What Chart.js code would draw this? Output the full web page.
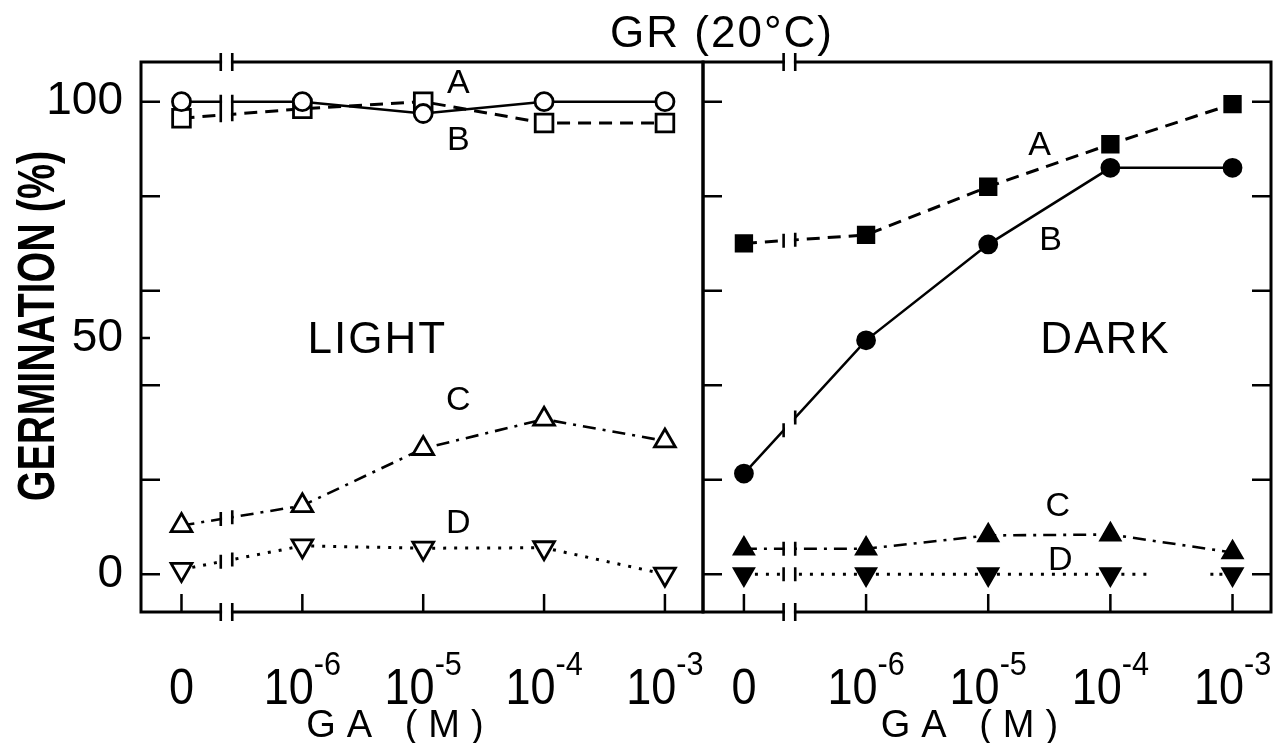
<!DOCTYPE html>
<html lang="en">
  <head>
    <meta charset="UTF-8" />
    <title>GR (20°C) germination</title>
    <style>
      html, body { margin: 0; padding: 0; background: #fff; }
      body { width: 1278px; height: 743px; position: relative; overflow: hidden; }
      canvas { position: absolute; top: 0; }
      #lightChart { left: 0; }
      #darkChart { left: 690px; }
      #topTitle {
        position: absolute; left: 722px; top: 10px; transform: translateX(-50%);
        font: 44px/44px "Liberation Sans", Arial, sans-serif; letter-spacing: 2px;
        color: #000; white-space: nowrap; z-index: 2;
      }
    </style>
  </head>
  <body>
    <div id="topTitle">GR (20°C)</div>
    <canvas id="lightChart" width="710" height="743"></canvas>
    <canvas id="darkChart" width="588" height="743"></canvas>
    <script src="https://cdn.jsdelivr.net/npm/chart.js"></script>
    <script>
      // GA doses, evenly spaced categories (0 sits before an axis break)
      const doseTicks = [0, 1, 2, 3, 4];
      const doseBase = ["0", "10", "10", "10", "10"];
      const doseExp = ["", "-6", "-5", "-4", "-3"];

      const yLabelValues = [0, 50, 100];
      const yMajorMarks = [0, 20, 40, 60, 80, 100];
      const yMinorMarks = [50];

      // germination (%) in light
      const lightA = [96.5, 98.5, 100, 95.5, 95.5];
      const lightB = [100, 100, 97.5, 100, 100];
      const lightC = [10.3, 14.5, 26.6, 32.8, 28.2];
      const lightD = [1, 6, 5.5, 5.6, 0];

      // germination (%) in dark
      const darkA = [70, 71.8, 82, 91, 99.5];
      const darkB = [21.3, 49.5, 69.8, 86, 86];
      const darkC = [5.4, 5.4, 8.2, 8.4, 4.6];
      const darkD = [0, 0, 0, 0, 0];

      const FONT = '"Liberation Sans", Arial, sans-serif';
      const X_MIN = -0.335, X_MAX = 4.315;
      const Y_MIN = -8, Y_MAX = 108.4;
      const BREAK = [0.325, 0.42];

      const solid = { borderWidth: 2.5 };
      const dashed = { borderWidth: 3, borderDash: [13, 8] };
      const dashDot = { borderWidth: 2.6, borderDash: [13, 7, 3, 7] };
      const dotted = { borderWidth: 3, borderDash: [3, 8] };

      function marker(style, filled, r) {
        return {
          pointStyle: style === "down" ? "triangle" : style,
          rotation: style === "down" ? 180 : 0,
          pointRadius: r,
          pointHoverRadius: r,
          pointBorderWidth: 2.8,
          pointBackgroundColor: filled ? "#000" : "#fff",
          pointBorderColor: "#000",
        };
      }

      function series(values, line, mark, extra) {
        return Object.assign(
          {
            data: values.map((v, i) => ({ x: doseTicks[i], y: v })),
            borderColor: "#000",
            fill: false,
            tension: 0,
            borderCapStyle: "butt",
          },
          line,
          mark,
          extra || {}
        );
      }

      // frame, inward ticks, axis break and texts of one panel
      const panelDecor = {
        id: "panelDecor",
        afterDatasetsDraw(chart, args, o) {
          const { ctx, chartArea: a } = chart;
          const x = chart.scales.x, y = chart.scales.y;
          ctx.save();
          ctx.strokeStyle = "#000";
          ctx.lineCap = "butt";
          ctx.lineWidth = 3;
          ctx.strokeRect(a.left, a.top, a.right - a.left, a.bottom - a.top);

          ctx.lineWidth = 2.5;
          ctx.beginPath();
          if (o.leftMarks) {
            yMajorMarks.forEach((v) => {
              const py = y.getPixelForValue(v);
              ctx.moveTo(a.left, py);
              ctx.lineTo(a.left + 19, py);
            });
          }
          if (o.minorMarks) {
            yMinorMarks.forEach((v) => {
              const py = y.getPixelForValue(v);
              ctx.moveTo(a.left, py);
              ctx.lineTo(a.left + 9, py);
            });
          }
          if (o.rightMarks) {
            yMajorMarks.forEach((v) => {
              const py = y.getPixelForValue(v);
              ctx.moveTo(a.right, py);
              ctx.lineTo(a.right - 19, py);
            });
          }
          doseTicks.forEach((v) => {
            const px = x.getPixelForValue(v);
            ctx.moveTo(px, a.bottom);
            ctx.lineTo(px, a.bottom - 18);
          });
          ctx.stroke();

          // axis break between 0 and 10^-6
          const bx0 = x.getPixelForValue(BREAK[0]);
          const bx1 = x.getPixelForValue(BREAK[1]);
          ctx.fillStyle = "#fff";
          ctx.fillRect(bx0 + 1.3, a.top - 4, bx1 - bx0 - 2.6, a.bottom - a.top + 8);
          ctx.lineWidth = 2.6;
          ctx.beginPath();
          [bx0, bx1].forEach((bx) => {
            ctx.moveTo(bx, a.top - 9);
            ctx.lineTo(bx, a.top + 9);
            ctx.moveTo(bx, a.bottom - 9);
            ctx.lineTo(bx, a.bottom + 9);
          });
          chart.data.datasets.forEach((ds, i) => {
            const pts = chart.getDatasetMeta(i).data;
            const p0 = pts[0], p1 = pts[1];
            [bx0, bx1].forEach((bx) => {
              const by = p0.y + ((bx - p0.x) / (p1.x - p0.x)) * (p1.y - p0.y);
              ctx.moveTo(bx, by - 7);
              ctx.lineTo(bx, by + 7);
            });
          });
          ctx.stroke();
          ctx.restore();
        },
        afterDraw(chart, args, o) {
          const { ctx } = chart;
          const x = chart.scales.x, y = chart.scales.y;
          ctx.save();
          ctx.fillStyle = "#000";
          ctx.textBaseline = "alphabetic";

          // dose tick labels with exponents
          doseTicks.forEach((v, i) => {
            const px = x.getPixelForValue(v);
            ctx.letterSpacing = "0px";
            ctx.font = "50px " + FONT;
            const wb = ctx.measureText(doseBase[i]).width * 0.9;
            ctx.font = "34px " + FONT;
            const we = doseExp[i] ? ctx.measureText(doseExp[i]).width * 0.9 : 0;
            const left = px - (wb + we) / 2;
            ctx.save();
            ctx.translate(left, 0);
            ctx.scale(0.9, 1);
            ctx.textAlign = "left";
            ctx.font = "50px " + FONT;
            ctx.fillText(doseBase[i], 0, 704);
            if (doseExp[i]) {
              ctx.font = "34px " + FONT;
              ctx.fillText(doseExp[i], wb / 0.9, 675);
            }
            ctx.restore();
          });

          // x axis title
          ctx.font = "38px " + FONT;
          ctx.letterSpacing = "11px";
          ctx.textAlign = "center";
          ctx.fillText(o.xTitle, x.getPixelForValue(o.xTitleAt) + 5, 737);

          // panel name
          ctx.font = "44px " + FONT;
          ctx.letterSpacing = "2px";
          ctx.textBaseline = "middle";
          ctx.fillText(o.name, x.getPixelForValue(o.nameAt[0]), y.getPixelForValue(o.nameAt[1]));

          // curve letters
          ctx.font = "34px " + FONT;
          ctx.letterSpacing = "0px";
          o.letters.forEach((l) => {
            ctx.fillText(l.t, x.getPixelForValue(l.x), y.getPixelForValue(l.y));
          });

          // y axis title, condensed lettering
          if (o.yTitle) {
            ctx.translate(36, 326);
            ctx.rotate(-Math.PI / 2);
            ctx.scale(0.76, 1);
            ctx.font = "bold 52px " + FONT;
            ctx.textAlign = "center";
            ctx.textBaseline = "alphabetic";
            ctx.fillText(o.yTitle, 0, 18);
          }
          ctx.restore();
        },
      };

      function panelOptions(decor, showY, padLeft) {
        return {
          responsive: false,
          animation: false,
          layout: { autoPadding: false, padding: { top: 62, right: 7, bottom: 131, left: padLeft } },
          plugins: { legend: { display: false }, tooltip: { enabled: false }, panelDecor: decor },
          scales: {
            x: { type: "linear", min: X_MIN, max: X_MAX, display: false },
            y: {
              type: "linear",
              min: Y_MIN,
              max: Y_MAX,
              display: showY,
              afterBuildTicks: (s) => {
                s.ticks = yLabelValues.map((v) => ({ value: v }));
              },
              afterFit: (s) => {
                s.width = showY ? 141 : 0;
              },
              grid: { display: false, drawTicks: false },
              border: { display: false },
              ticks: { color: "#000", padding: 18, font: { family: FONT, size: 46 } },
            },
          },
        };
      }

      new Chart(document.getElementById("lightChart").getContext("2d"), {
        type: "line",
        plugins: [panelDecor],
        data: {
          datasets: [
            series(lightB, solid, marker("circle", false, 9)),
            series(lightA, dashed, marker("rect", false, 12.5)),
            series(lightC, dashDot, marker("triangle", false, 12)),
            series(lightD, dotted, marker("down", false, 12)),
          ],
        },
        options: panelOptions(
          {
            leftMarks: true,
            minorMarks: true,
            rightMarks: false,
            name: "LIGHT",
            nameAt: [1.62, 49.4],
            xTitle: "GA (M)",
            xTitleAt: 1.77,
            yTitle: "GERMINATION (%)",
            letters: [
              { t: "A", x: 2.29, y: 103.8 },
              { t: "B", x: 2.29, y: 91.7 },
              { t: "C", x: 2.29, y: 36.7 },
              { t: "D", x: 2.29, y: 10.6 },
            ],
          },
          true,
          0
        ),
      });

      // the dotted D line in the dark breaks off before 10^-3
      const darkDGap = [3, 8, 3, 8, 3, 8, 3, 64, 3, 6, 3, 60];

      new Chart(document.getElementById("darkChart").getContext("2d"), {
        type: "line",
        plugins: [panelDecor],
        data: {
          datasets: [
            series(darkB, solid, marker("circle", true, 8.5)),
            series(darkA, dashed, marker("rect", true, 11)),
            series(darkC, dashDot, marker("triangle", true, 11)),
            series(darkD, dotted, marker("down", true, 11), {
              segment: { borderDash: (c) => (c.p0DataIndex === 3 ? darkDGap : undefined) },
            }),
          ],
        },
        options: panelOptions(
          {
            leftMarks: true,
            minorMarks: false,
            rightMarks: true,
            name: "DARK",
            nameAt: [2.96, 49.4],
            xTitle: "GA (M)",
            xTitleAt: 1.85,
            yTitle: "",
            letters: [
              { t: "A", x: 2.42, y: 90.6 },
              { t: "B", x: 2.51, y: 70.7 },
              { t: "C", x: 2.57, y: 14.3 },
              { t: "D", x: 2.59, y: 2.8 },
            ],
          },
          false,
          13
        ),
      });
    </script>
  </body>
</html>
